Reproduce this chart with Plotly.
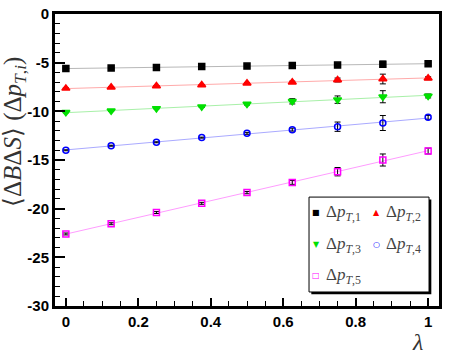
import numpy as np
import plotly.graph_objects as go

# lambda values and the five <dB dS> series
lam = [0.0, 0.125, 0.25, 0.375, 0.5, 0.625, 0.75, 0.875, 1.0]

pt1 = [-5.60, -5.55, -5.50, -5.40, -5.35, -5.28, -5.25, -5.15, -5.12]
pt1_err = [0.05, 0.05, 0.05, 0.05, 0.05, 0.08, 0.10, 0.30, 0.20]
pt2 = [-7.64, -7.52, -7.40, -7.30, -7.12, -7.00, -6.78, -6.68, -6.60]
pt2_err = [0.05, 0.05, 0.05, 0.05, 0.08, 0.10, 0.20, 0.50, 0.15]
pt3 = [-10.10, -9.95, -9.70, -9.52, -9.25, -8.97, -8.80, -8.50, -8.42]
pt3_err = [0.05, 0.05, 0.05, 0.08, 0.10, 0.27, 0.38, 0.62, 0.20]
pt4 = [-14.00, -13.53, -13.18, -12.70, -12.26, -11.88, -11.58, -11.20, -10.62]
pt4_err = [0.05, 0.05, 0.05, 0.05, 0.10, 0.15, 0.48, 0.77, 0.20]
pt5 = [-22.60, -21.55, -20.40, -19.45, -18.35, -17.30, -16.20, -15.00, -14.08]
pt5_err = [0.10, 0.10, 0.10, 0.10, 0.12, 0.20, 0.43, 0.62, 0.30]

names = [
    "Δ<i>p</i><sub><i>T</i>,1</sub>",
    "Δ<i>p</i><sub><i>T</i>,2</sub>",
    "Δ<i>p</i><sub><i>T</i>,3</sub>",
    "Δ<i>p</i><sub><i>T</i>,4</sub>",
    "Δ<i>p</i><sub><i>T</i>,5</sub>",
]
values = [pt1, pt2, pt3, pt4, pt5]
errors = [pt1_err, pt2_err, pt3_err, pt4_err, pt5_err]

y_ticks = [0, -5, -10, -15, -20, -25, -30]
y_tick_text = ["0", "-5", "-10", "-15", "-20", "-25", "-30"]

symbols = ["square", "triangle-up", "triangle-down", "circle-open", "square-open"]
glyphs = ["■", "▲", "▼", "○", "□"]
colors = ["#000000", "#ff0000", "#00e000", "#0000ff", "#ff00ff"]
fit_colors = ["#b8b8b8", "#ffaaaa", "#a8f0a8", "#aaaaff", "#ff9cff"]
sizes = [6, 7, 7, 6, 6]

fig = go.Figure()

for vals, col in zip(values, fit_colors):
    coef = np.polyfit(lam, vals, 1)
    ends = [lam[0], lam[-1]]
    fig.add_trace(
        go.Scatter(
            x=ends,
            y=np.polyval(coef, ends),
            mode="lines",
            line={"color": col, "width": 1},
            showlegend=False,
            hoverinfo="skip",
        )
    )

for name, vals, err, sym, col, size in zip(names, values, errors, symbols, colors, sizes):
    fig.add_trace(
        go.Scatter(
            x=lam,
            y=vals,
            mode="markers",
            name=name,
            marker={"symbol": sym, "size": size, "color": col, "line": {"color": col, "width": 1.5}},
            error_y={"type": "data", "array": err, "color": "black", "thickness": 1, "width": 3},
            showlegend=False,
        )
    )

tick_font = {"family": "Liberation Sans Narrow, Liberation Sans, Arial", "size": 15, "color": "black", "weight": "bold"}
serif = "Liberation Serif, Times New Roman, serif"

fig.update_xaxes(
    range=[-0.03, 1.03],
    tick0=0,
    dtick=0.2,
    ticks="inside",
    ticklen=8,
    tickwidth=1.5,
    tickcolor="black",
    minor={"dtick": 0.05, "ticks": "inside", "ticklen": 5, "tickwidth": 1, "tickcolor": "black"},
    showline=True,
    linewidth=3,
    linecolor="black",
    mirror=True,
    showgrid=False,
    zeroline=False,
    automargin=False,
    tickfont=tick_font,
)
fig.update_yaxes(
    range=[-30, 0],
    tickmode="array",
    tickvals=y_ticks,
    ticktext=y_tick_text,
    ticks="inside",
    ticklen=10,
    tickwidth=1.5,
    tickcolor="black",
    minor={"tickmode": "linear", "tick0": 0, "dtick": 1, "ticks": "inside", "ticklen": 5,
           "tickwidth": 1, "tickcolor": "black"},
    showline=True,
    linewidth=3,
    linecolor="black",
    mirror=True,
    showgrid=False,
    zeroline=False,
    automargin=False,
    tickfont=tick_font,
)

# legend box drawn by hand so it can sit in two columns like the original
box_x0, box_x1, box_y0, box_y1 = 0.6615, 0.974, 0.048, 0.373
shapes = [
    dict(type="rect", xref="paper", yref="paper", x0=box_x0 + 0.006, x1=box_x1 + 0.006,
         y0=box_y0 - 0.008, y1=box_y1 - 0.008, fillcolor="black", line={"width": 0}, layer="above"),
    dict(type="rect", xref="paper", yref="paper", x0=box_x0, x1=box_x1, y0=box_y0, y1=box_y1,
         fillcolor="white", line={"color": "black", "width": 1}, layer="above"),
]

col_marker_x = [0.680, 0.836]
col_text_x = [0.7005, 0.857]
row_y = [0.3185, 0.209, 0.103]

annotations = []
for i, (name, glyph, col) in enumerate(zip(names, glyphs, colors)):
    r, c = divmod(i, 2)
    annotations.append(dict(
        xref="paper", yref="paper", x=col_marker_x[c], y=row_y[r], text=glyph, showarrow=False,
        xanchor="center", yanchor="middle", font={"family": "DejaVu Sans", "size": 8, "color": col},
    ))
    annotations.append(dict(
        xref="paper", yref="paper", x=col_text_x[c], y=row_y[r], text=name, showarrow=False,
        xanchor="left", yanchor="middle", font={"family": serif, "size": 17, "color": "#444444"},
    ))

annotations.append(dict(
    xref="paper", yref="paper", x=-0.104, y=0.596, textangle=-90, showarrow=False,
    xanchor="center", yanchor="middle",
    text="⟨Δ<i>B</i>Δ<i>S</i>⟩ (Δ<i>p</i><sub><i>T</i>,<i>i</i></sub>)",
    font={"family": serif, "size": 25, "color": "#333333"},
))
annotations.append(dict(
    xref="paper", yref="paper", x=0.945, y=-0.123, text="<i>λ</i>", showarrow=False,
    xanchor="center", yanchor="middle", font={"family": serif, "size": 24, "color": "#333333"},
))

fig.update_layout(
    width=458,
    height=354,
    margin={"l": 55, "r": 19, "t": 14, "b": 48},
    paper_bgcolor="white",
    plot_bgcolor="white",
    showlegend=False,
    shapes=shapes,
    annotations=annotations,
)

# the page's default body margin would shift the whole figure
fig.write_html(
    "out.html",
    config={"displayModeBar": False},
    post_script="document.body.style.margin='0';document.body.style.overflow='hidden';",
)
